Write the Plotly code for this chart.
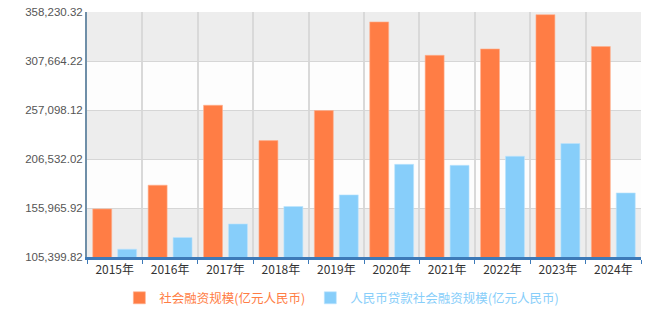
import plotly.graph_objects as go

years = ["2015年", "2016年", "2017年", "2018年", "2019年", "2020年", "2021年", "2022年", "2023年", "2024年"]
tsf = [155000, 179500, 262000, 225500, 256500, 348000, 313500, 320100, 355500, 322600]
loans = [113500, 125500, 139500, 157500, 169500, 201000, 200000, 209400, 222500, 171500]
y_ticks = [105399.82, 155965.92, 206532.02, 257098.12, 307664.22, 358230.32]
y_labels = ["105,399.82", "155,965.92", "206,532.02", "257,098.12", "307,664.22", "358,230.32"]
name_tsf = "社会融资规模(亿元人民币)"
name_loans = "人民币贷款社会融资规模(亿元人民币)"

C_OR = "#FF7D45"
C_BL = "#87CEFA"

fig = go.Figure()
fig.add_trace(go.Bar(x=years, y=tsf, name=f"<span style='color:{C_OR}'>{name_tsf}</span>",
                     marker=dict(color=C_OR, line=dict(color="#FFB08F", width=0.6))))
fig.add_trace(go.Bar(x=years, y=loans, name=f"<span style='color:{C_BL}'>{name_loans}</span>",
                     marker=dict(color=C_BL, line=dict(color="#BDE4FD", width=0.6))))

shapes = []
for i in range(len(y_ticks) - 1):
    if i % 2 == 0:
        shapes.append(dict(type="rect", xref="paper", yref="y", x0=0, x1=1,
                           y0=y_ticks[i], y1=y_ticks[i + 1], fillcolor="#EDEDED",
                           line=dict(width=0), layer="below"))
fig.update_layout(shapes=shapes)

fig.update_layout(
    width=645, height=309,
    margin=dict(l=87, r=4, t=12, b=52, autoexpand=False),
    paper_bgcolor="white", plot_bgcolor="#FDFDFD",
    barmode="group", bargap=0.1, bargroupgap=0.24,
    font=dict(family="Arial, 'Liberation Sans', 'Noto Sans CJK SC'", size=11, color="#444"),
    showlegend=True,
    legend=dict(orientation="h", x=0.53, xref="container", xanchor="center",
                y=0.035, yref="container", yanchor="middle",
                font=dict(size=12.5, family="'Noto Sans CJK SC', Arial"), itemwidth=30,
                bgcolor="rgba(0,0,0,0)"),
    xaxis=dict(type="category", tickson="boundaries", showgrid=True, gridcolor="#D9D9D9",
               gridwidth=1.5, ticks="outside", ticklen=4, tickcolor="#3D7AB8",
               showline=True, linecolor="#3D7AB8", linewidth=2.5, automargin=False,
               tickfont=dict(size=12, color="#333", family="'Noto Sans CJK SC', Arial")),
    yaxis=dict(range=[y_ticks[0], y_ticks[-1]], tickvals=y_ticks, ticktext=y_labels,
               showgrid=True, gridcolor="#D6D6D6", gridwidth=1, zeroline=False,
               showline=True, linecolor="#6F8FA8", linewidth=2, ticks="", automargin=False,
               tickfont=dict(size=11.5, color="#555")),
)

fig.write_html("out.html")
